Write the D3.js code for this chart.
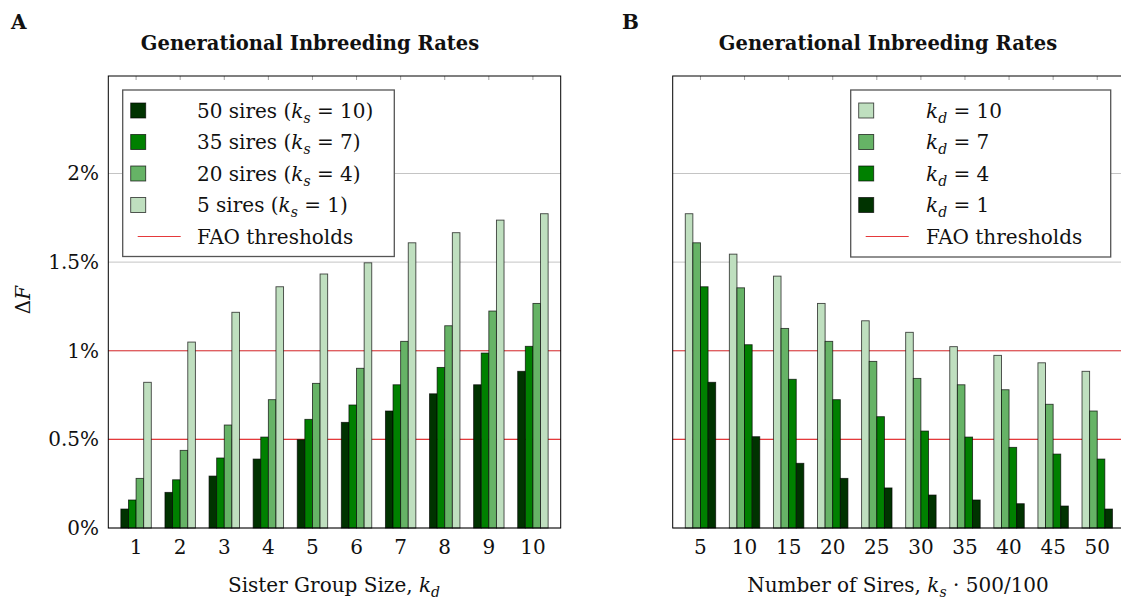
<!DOCTYPE html>
<html><head><meta charset="utf-8">
<script src="https://cdn.jsdelivr.net/npm/d3@7"></script>
<style>body{margin:0;background:#fff} text{font-family:"DejaVu Serif",serif;fill:#111}</style>
</head><body><svg id="c" width="1121" height="599"></svg>
<script>
// ---------- data ----------
const sisterSizes = [1,2,3,4,5,6,7,8,9,10];          // panel A categories (k_d)
const sireCounts  = [5,10,15,20,25,30,35,40,45,50];   // panel B categories (sires)
const yTicks = [0, 0.5, 1, 1.5, 2];
const yTickLabels = ["0%","0.5%","1%","1.5%","2%"];
const faoThresholds = [0.5, 1];

// Panel A: Delta F (%) by sister group size, one series per number of sires
const a_sires50 = [0.107,0.201,0.293,0.389,0.498,0.596,0.660,0.757,0.808,0.884];
const a_sires35 = [0.158,0.272,0.395,0.513,0.613,0.694,0.808,0.906,0.987,1.025];
const a_sires20 = [0.280,0.438,0.581,0.724,0.816,0.901,1.053,1.141,1.224,1.267];
const a_sires5  = [0.822,1.049,1.217,1.361,1.433,1.496,1.609,1.666,1.737,1.773];

// Panel B: Delta F (%) by number of sires, one series per sister group size
const b_kd10 = [1.773,1.545,1.421,1.267,1.169,1.104,1.023,0.974,0.932,0.884];
const b_kd7  = [1.609,1.355,1.126,1.053,0.940,0.844,0.808,0.780,0.698,0.660];
const b_kd4  = [1.361,1.034,0.839,0.724,0.628,0.547,0.513,0.455,0.417,0.389];
const b_kd1  = [0.822,0.515,0.365,0.280,0.226,0.186,0.158,0.137,0.124,0.107];

const colDark = "#003300", colGreen = "#008000", colMed = "#66b366", colLight = "#bfdfbf";

const seriesA = [
  {vals:a_sires50, color:colDark,  label:[["50 sires ("],["k","i"],["s","sub"],[" = 10)"]]},
  {vals:a_sires35, color:colGreen, label:[["35 sires ("],["k","i"],["s","sub"],[" = 7)"]]},
  {vals:a_sires20, color:colMed,   label:[["20 sires ("],["k","i"],["s","sub"],[" = 4)"]]},
  {vals:a_sires5,  color:colLight, label:[["5 sires ("],["k","i"],["s","sub"],[" = 1)"]]}
];
const seriesB = [
  {vals:b_kd10, color:colLight, label:[["k","i"],["d","sub"],[" = 10"]]},
  {vals:b_kd7,  color:colMed,   label:[["k","i"],["d","sub"],[" = 7"]]},
  {vals:b_kd4,  color:colGreen, label:[["k","i"],["d","sub"],[" = 4"]]},
  {vals:b_kd1,  color:colDark,  label:[["k","i"],["d","sub"],[" = 1"]]}
];

// ---------- drawing ----------
const svg = d3.select("#c");
const plotTop = 76, plotBottom = 528;
const y = d3.scaleLinear().domain([0, 2.55]).range([plotBottom, plotTop]);

function rich(sel, parts, size){
  let sub = false;
  parts.forEach(p=>{
    const t = sel.append("tspan").text(p[0]);
    if (p[1]==="i") t.attr("font-style","italic");
    if (p[1]==="sub"){ t.attr("font-style","italic").attr("font-size", size*0.7).attr("dy", size*0.25); sub = true; }
    else if (sub){ t.attr("dy", -size*0.25); sub = false; }
  });
}

function panel(cfg){
  const g = svg.append("g");
  const idx = d3.range(cfg.cats.length);
  const x = d3.scaleLinear().domain([-0.63, cfg.cats.length-1+0.63]).range([cfg.left, cfg.right]);
  const bwPx = x(0.1725) - x(0);

  g.selectAll("line.grid").data(yTicks).join("line")
    .attr("x1", cfg.left).attr("x2", cfg.right)
    .attr("y1", d=>y(d)).attr("y2", d=>y(d))
    .attr("stroke", "#c4c4c4").attr("stroke-width", 1);
  g.selectAll("line.fao").data(faoThresholds).join("line")
    .attr("x1", cfg.left).attr("x2", cfg.right)
    .attr("y1", d=>y(d)).attr("y2", d=>y(d))
    .attr("stroke", "#e5393b").attr("stroke-width", 1.2);

  cfg.series.forEach((s, j)=>{
    g.append("g").selectAll("rect").data(idx).join("rect")
      .attr("x", i => x(i) + (j-2)*bwPx)
      .attr("width", bwPx)
      .attr("y", i => y(s.vals[i]))
      .attr("height", i => y(0) - y(s.vals[i]))
      .attr("fill", s.color)
      .attr("stroke", "rgba(0,0,0,0.72)").attr("stroke-width", 0.9);
  });

  g.append("g").selectAll("line").data(idx).join("line")
    .attr("x1", i=>x(i)).attr("x2", i=>x(i)).attr("y1", plotTop).attr("y2", plotTop+4)
    .attr("stroke", "#888").attr("stroke-width", 0.8);
  g.append("rect").attr("x", cfg.left).attr("y", plotTop)
    .attr("width", cfg.right-cfg.left).attr("height", plotBottom-plotTop)
    .attr("fill","none").attr("stroke","#000").attr("stroke-width",1);

  g.append("g").selectAll("text").data(idx).join("text")
    .attr("x", i=>x(i)).attr("y", 554).attr("text-anchor","middle")
    .attr("font-size", 20).text(i=>cfg.cats[i]);

  const xt = g.append("text").attr("x", cfg.xtX)
    .attr("y", 592).attr("text-anchor","middle").attr("font-size", 20);
  rich(xt, cfg.xtitle, 20);

  g.append("text").attr("x", cfg.titleX).attr("y", 50).attr("text-anchor","middle")
    .attr("font-size", 19.5).attr("font-weight","bold").text("Generational Inbreeding Rates");
  g.append("text").attr("x", cfg.letterX).attr("y", 29)
    .attr("font-size", 20).attr("font-weight","bold").text(cfg.letter);

  const L = cfg.legend;
  const lg = g.append("g");
  lg.append("rect").attr("x", L.x).attr("y", L.y).attr("width", L.w).attr("height", L.h)
    .attr("fill","#fff").attr("stroke","#555").attr("stroke-width",1.3);
  const rowY = k => L.y + 20.5 + k*31.5;
  cfg.series.forEach((s,k)=>{
    lg.append("rect").attr("x", L.x+8).attr("y", rowY(k)-7.5).attr("width",15).attr("height",15)
      .attr("fill", s.color).attr("stroke","rgba(0,0,0,0.72)").attr("stroke-width",0.9);
    const t = lg.append("text").attr("x", L.tx).attr("y", rowY(k)+7).attr("font-size",20);
    rich(t, s.label, 20);
  });
  const k = cfg.series.length;
  lg.append("line").attr("x1", L.x+15).attr("x2", L.x+58).attr("y1", rowY(k)).attr("y2", rowY(k))
    .attr("stroke","#e5393b").attr("stroke-width",1.2);
  lg.append("text").attr("x", L.tx).attr("y", rowY(k)+7).attr("font-size",20).text("FAO thresholds");
}

svg.append("g").selectAll("text").data(yTicks).join("text")
  .attr("x", 99).attr("y", d=>y(d)+7).attr("text-anchor","end").attr("font-size",20)
  .text((d,i)=>yTickLabels[i]);
const yl = svg.append("text").attr("transform","translate(30,300) rotate(-90)")
  .attr("text-anchor","middle").attr("font-size",20);
yl.append("tspan").text("Δ");
yl.append("tspan").attr("font-style","italic").text("F");

panel({cats:sisterSizes, series:seriesA, left:108.3, right:560.7,
  xtitle:[["Sister Group Size, "],["k","i"],["d","sub"]], xtX:334,
  titleX:310, letter:"A", letterX:11,
  legend:{x:122.7, y:90, w:271.6, h:166.5, tx:197}});
panel({cats:sireCounts, series:seriesB, left:672.7, right:1125,
  xtitle:[["Number of Sires, "],["k","i"],["s","sub"],[" · 500/100"]], xtX:898,
  titleX:888, letter:"B", letterX:622,
  legend:{x:850.7, y:90, w:260, h:167, tx:926}});
</script></body></html>
